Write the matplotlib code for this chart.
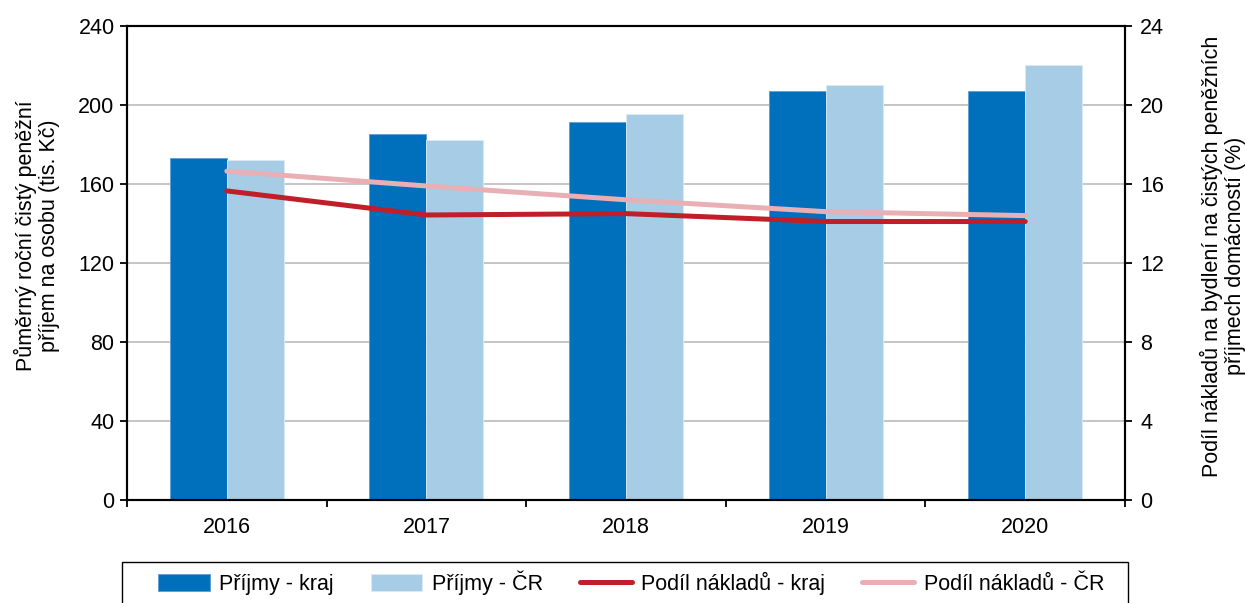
import matplotlib.pyplot as plt
import numpy as np
from matplotlib.patches import Rectangle

# data
years = ["2016", "2017", "2018", "2019", "2020"]
prijmy_kraj = [173.2, 185.3, 191.4, 207.1, 207.3]
prijmy_cr = [172.2, 182.5, 195.4, 210.1, 220.3]
podil_kraj = [15.65, 14.43, 14.5, 14.1, 14.1]
podil_cr = [16.65, 15.9, 15.2, 14.6, 14.4]

plt.rcParams['font.family'] = ['Liberation Sans', 'DejaVu Sans']
plt.rcParams['font.size'] = 15.5

W, H = 1245, 603
fig = plt.figure(figsize=(W / 100, H / 100), dpi=100)
ax = fig.add_axes([127 / W, 1 - 500 / H, 998 / W, 474 / H])
ax2 = ax.twinx()

x = np.arange(len(years))
w = 0.286

# bars
ax.bar(x - w / 2, prijmy_kraj, w, color='#0070BD', edgecolor='#5A9FD4', linewidth=0.6,
       label='Příjmy - kraj', zorder=2)
ax.bar(x + w / 2, prijmy_cr, w, color='#A6CCE6', edgecolor='#DCEAF5', linewidth=0.6,
       label='Příjmy - ČR', zorder=2)

# lines on the right axis
ax2.plot(x, podil_kraj, color='#C01E28', lw=3.6, solid_capstyle='round',
         label='Podíl nákladů - kraj', zorder=3)
ax2.plot(x, podil_cr, color='#E8B0B4', lw=3.6, solid_capstyle='round',
         label='Podíl nákladů - ČR', zorder=2)

ax.set_xlim(-0.5, len(years) - 0.5)
ax.set_ylim(0, 240)
ax.set_yticks(range(0, 241, 40))
ax2.set_ylim(0, 24)
ax2.set_yticks(range(0, 25, 4))

ax.yaxis.grid(True, color='#C0C0C0', lw=1.3, zorder=0)
ax.set_axisbelow(True)

ax.set_xticks(x)
ax.set_xticklabels(years)
ax.set_xticks(np.arange(-0.5, len(years), 1), minor=True)
ax.tick_params(axis='x', which='major', length=0, pad=12)
ax.tick_params(axis='x', which='minor', length=5, width=1.3)
ax.tick_params(axis='y', length=5, width=1.3, pad=4)
ax2.tick_params(axis='y', length=5, width=1.3, pad=6)

for a in (ax, ax2):
    for s in a.spines.values():
        s.set_linewidth(1.5)
        s.set_color('black')

ax.set_ylabel('Půměrný roční čistý peněžní\npříjem na osobu (tis. Kč)', linespacing=1.1,
              va='center', ha='center')
ax.yaxis.set_label_coords(-0.09, 0.557)
ax2.set_ylabel('Podíl nákladů na bydlení na čistých peněžních\npříjmech domácností (%)',
               rotation=90, linespacing=1.1, va='center', ha='center')
ax2.yaxis.set_label_coords(1.098, 0.515)

# legend box below the plot (frame drawn separately, cut by the figure edge)
fig.patches.append(Rectangle((122 / W, -0.05), 1006 / W, 0.05 + (603 - 562) / H,
                             transform=fig.transFigure, fill=False, ec='black', lw=1.0))
h1, l1 = ax.get_legend_handles_labels()
h2, l2 = ax2.get_legend_handles_labels()
fig.legend(h1 + h2, l1 + l2, loc='center left', ncol=4, mode='expand',
           bbox_to_anchor=(158 / W, 1 - 583 / H, 946 / W, 0.001),
           borderaxespad=0, frameon=False, borderpad=0, handlelength=2.4,
           handleheight=0.8, columnspacing=1.6, handletextpad=0.45)

fig.savefig('out.png', dpi=100)
